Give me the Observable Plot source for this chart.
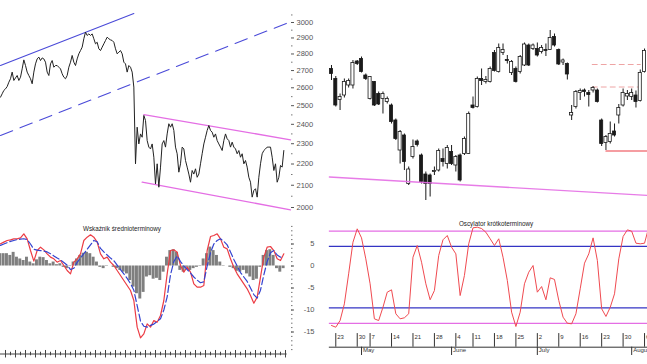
<!DOCTYPE html>
<html><head><meta charset="utf-8">
<script src="https://cdn.jsdelivr.net/npm/d3@7"></script>
<script src="https://cdn.jsdelivr.net/npm/@observablehq/plot@0.6"></script>
<style>
body{margin:0;background:#fff;}
#wrap{position:relative;width:647px;height:364px;overflow:hidden;font-family:"Liberation Sans",Arial,sans-serif;background:#fff;}
#wrap > div.p{position:absolute;}
.title{position:absolute;font-size:6.3px;color:#222;transform:translate(-50%,-50%);white-space:nowrap;}
</style></head><body>
<div id="wrap">
 <div class="p" id="price" style="left:0;top:0"></div>
 <div class="p" id="macd" style="left:0;top:215px"></div>
 <div class="p" id="candles" style="left:320px;top:0"></div>
 <div class="p" id="osc" style="left:320px;top:210px"></div>
 <div class="title" style="left:122px;top:228px">Wskaźnik średnioterminowy</div>
 <div class="title" style="left:496px;top:223px">Oscylator krótkoterminowy</div>
</div>
<script>
// ---------- Left: long-term index (log scale) ----------
const wigClose = [
2547,2566,2585,2594,2607,2632,2652,2691,2642,2657,
2671,2642,2661,2710,2764,2730,2691,2671,2652,2623,
2691,2740,2770,2781,2760,2776,2770,2750,2691,2671,
2740,2760,2720,2730,2730,2720,2710,2681,2661,2652,
2671,2720,2750,2791,2750,2730,2770,2801,2821,2842,
2895,2937,2916,2926,2916,2926,2895,2863,2873,2832,
2821,2842,2863,2884,2905,2895,2888,2884,2873,2832,
2801,2811,2821,2801,2750,2740,2691,2730,2720,2691,
2604,2201,2385,2299,2350,2333,2447,2420,2316,2283,
2274,2299,2233,2106,2201,2091,2185,2299,2316,2283,
2350,2403,2385,2403,2368,2283,2250,2161,2201,2283,
2274,2217,2185,2152,2114,2169,2152,2177,2137,2152,
2201,2250,2299,2333,2368,2394,2368,2359,2333,2350,
2316,2299,2283,2266,2316,2350,2325,2316,2283,2308,
2283,2274,2250,2266,2233,2250,2201,2217,2185,2137,
2114,2046,2076,2084,2046,2137,2201,2250,2266,2274,
2283,2283,2283,2233,2169,2201,2114,2137,2193,2185,
2266];
const priceTicks = [2000,2100,2200,2300,2400,2500,2600,2700,2800,2900,3000];
const priceMinor = [2050,2150,2250,2350,2450,2550,2650,2750,2850,2950,3050];
const trendUpper = [{i:0,p:2730},{i:80,p:3060}];
const trendLowerDashed = [{i:0,p:2342},{i:172,p:2996}];
const channelTop = [{i:86,p:2452},{i:174,p:2320}];
const channelBottom = [{i:85,p:2114},{i:174,p:1990}];

// ---------- Left: MACD (every 2nd session) ----------
const macdLine = [5.04,5.42,5.80,5.95,6.17,6.17,6.40,7.31,6.17,3.52,
1.10,3.52,4.28,3.67,2.77,2.01,1.63,0.87,1.25,0.11,
-1.02,-1.78,0.87,1.63,2.77,5.80,6.55,7.08,6.55,5.42,
2.77,1.63,2.01,0.87,0.11,-1.02,-2.16,-3.30,-4.43,-5.57,
-7.84,-13.90,-16.33,-15.42,-13.14,-13.90,-12.39,-12.77,-11.25,-7.84,
-1.78,3.52,3.67,3.14,0.11,-1.40,-0.27,-1.40,-4.05,-4.81,
-4.81,-4.43,3.52,6.70,6.93,7.31,6.17,4.28,3.90,1.63,
-0.27,-1.78,-2.92,-4.05,-5.19,-6.70,-8.45,-7.08,-2.54,2.01,
4.28,4.43,3.52,1.63,1.25,2.77];
const signalLine = [4.7,5.0,5.3,5.6,5.8,6.0,6.1,6.2,6.0,5.0,
3.8,3.6,3.5,3.4,3.2,2.8,2.3,1.8,1.4,0.8,
0.2,-0.8,-0.5,0.8,1.8,2.8,3.8,4.8,5.8,5.5,
4.0,3.2,2.5,1.8,1.2,0.2,-0.8,-1.8,-2.8,-4.0,
-5.5,-9.0,-12.5,-13.7,-13.9,-13.5,-13.2,-12.6,-12.0,-10.0,
-7.0,-2.0,1.0,2.3,1.0,0.0,-0.8,-1.6,-2.5,-3.2,
-3.8,-3.6,0.0,3.0,5.0,5.8,6.2,5.6,4.8,3.2,
1.5,0.0,-1.5,-2.5,-3.5,-5.0,-6.5,-7.3,-5.5,-2.0,
1.0,3.0,3.5,2.5,2.0,2.2];
const histogram = [2.8,2.8,2.8,2.4,3.1,2.0,1.6,1.25,2.0,0.9,
0.5,1.4,2.0,1.9,1.25,0.5,0.9,0.3,0.5,-0.3,
-0.6,0.1,0.9,1.6,2.4,2.9,3.1,2.8,2.0,0.9,
-0.3,-0.6,0.1,0.0,-0.3,-0.6,-1.0,-1.4,-1.8,-3.3,
-4.8,-6.3,-7.5,-6.0,-2.5,-2.2,-3.0,-2.8,-3.3,-1.4,
2.0,3.5,3.7,3.1,-1.0,-1.4,-0.3,-1.0,-0.6,-0.3,
0.1,1.6,2.8,4.3,3.5,2.4,0.9,-0.1,0.0,-0.3,
-0.6,-1.2,-1.4,-1.0,-1.8,-2.5,-3.3,-3.0,-0.3,2.4,
3.5,3.7,2.4,-0.6,-1.4,-0.6];
const macdTicks = [5,0,-5,-10,-15];

// ---------- Right: daily candles ----------
const tradingDays = [
"2012-04-20","2012-04-23","2012-04-24","2012-04-25","2012-04-26","2012-04-27","2012-04-30",
"2012-05-02","2012-05-04","2012-05-07","2012-05-08","2012-05-09","2012-05-10","2012-05-11",
"2012-05-14","2012-05-15","2012-05-16","2012-05-17","2012-05-18","2012-05-21","2012-05-22",
"2012-05-23","2012-05-24","2012-05-25","2012-05-28","2012-05-29","2012-05-30","2012-05-31",
"2012-06-01","2012-06-04","2012-06-05","2012-06-06","2012-06-08","2012-06-11","2012-06-12",
"2012-06-13","2012-06-14","2012-06-15","2012-06-18","2012-06-19","2012-06-20","2012-06-21",
"2012-06-22","2012-06-25","2012-06-26","2012-06-27","2012-06-28","2012-06-29",
"2012-07-02","2012-07-03","2012-07-04","2012-07-05","2012-07-06","2012-07-09","2012-07-10",
"2012-07-11","2012-07-12","2012-07-13","2012-07-16","2012-07-17","2012-07-18","2012-07-19",
"2012-07-20","2012-07-23","2012-07-24","2012-07-25","2012-07-26","2012-07-27","2012-07-30",
"2012-07-31","2012-08-01","2012-08-02","2012-08-03","2012-08-06","2012-08-07"];
const open = [2263,2243,2201,2210,2230,2230,2278,2283,2250,2203,
2237,2213,2203,2197,2190,2160,2100,2130,2033,2087,
2118,2090,2052,2050,2057,2060,2083,2073,2097,2070,
2090,2093,2093,2190,2187,2243,2237,2237,2295,2257,
2295,2281,2255,2263,2257,2270,2310,2303,2303,2297,
2301,2301,2327,2301,2276,2273,2170,2187,2215,2220,
2215,2220,2220,2160,2115,2117,2138,2170,2190,2208,
2207,2210,2199,2257];
const high = [2270,2248,2213,2243,2243,2280,2280,2287,2253,2248,
2238,2217,2217,2207,2193,2163,2140,2133,2067,2121,
2121,2093,2057,2053,2067,2103,2103,2110,2110,2090,
2093,2127,2177,2207,2247,2263,2248,2267,2300,2313,
2313,2290,2280,2267,2290,2315,2313,2313,2315,2310,
2313,2340,2333,2303,2283,2275,2190,2220,2223,2223,
2220,2228,2223,2163,2130,2157,2153,2192,2223,2220,
2223,2219,2261,2303];
const low = [2240,2187,2180,2205,2225,2223,2270,2255,2240,2201,
2188,2190,2173,2193,2153,2120,2073,2060,2030,2083,
2107,2033,2000,2007,2050,2057,2067,2063,2070,2057,
2037,2090,2092,2183,2185,2230,2233,2235,2257,2255,
2290,2273,2250,2235,2253,2268,2268,2300,2287,2293,
2288,2300,2307,2270,2270,2241,2160,2183,2200,2207,
2187,2215,2195,2108,2100,2113,2127,2153,2187,2200,
2200,2185,2197,2255];
const close = [2253,2190,2207,2237,2239,2275,2273,2257,2243,2247,
2190,2192,2213,2203,2157,2123,2137,2077,2062,2107,
2111,2037,2033,2033,2059,2099,2077,2105,2073,2087,
2040,2123,2173,2185,2243,2239,2241,2263,2259,2305,
2301,2279,2277,2237,2287,2312,2270,2310,2290,2305,
2299,2325,2310,2272,2280,2252,2175,2217,2219,2217,
2211,2225,2197,2113,2127,2133,2130,2185,2215,2213,
2215,2197,2255,2299];
const supportLine = [{k:-0.5,p:2047},{k:73.7,p:2010}];
const redLevel = [{k:64,p:2099},{k:73.7,p:2099}];
const dashedLevels = [2272,2227];

// ---------- Right: short-term oscillator ----------
const oscillator = [2.9,1.2,7.7,24,53.3,84.1,97.2,88.4,67.9,43.6,
9.4,7.7,20.7,35.4,37.7,14.3,9.4,10.4,14.3,69.5,
80.9,64.6,43.6,28,37,71.2,86.5,90.7,79.3,72.8,
32.1,51.7,82.6,98.2,98.8,97.5,93.9,87.5,80.9,87.5,
69.5,46.8,15.9,1.9,15.9,43.6,54.9,61.4,35.4,40.9,
28,49.4,47.8,27.3,11,5.1,4.5,14.3,38.7,63.7,
72.8,88.4,66.3,19.2,11.7,20.7,33.8,67.9,89.7,96.2,
94.9,83.2,82.6,83.2,99];
const oscOuter = [95,5];
const oscInner = [80,20];
const monthNames = ["January","February","March","April","May","June","July","August","September","October","November","December"];

// ---------- build ----------
const PINK = "#e46ee4", BLUE = "#4a4ad8", RED = "#ec3c44", INK = "#1a1a1a";
const baseStyle = {background:"transparent", overflow:"visible", fontFamily:"Liberation Sans, Arial, sans-serif"};

const priceRows = wigClose.map((p,i)=>({i,p}));
document.getElementById("price").append(Plot.plot({
  width:320, height:215, marginLeft:0, marginRight:30, marginTop:22, marginBottom:8,
  style: baseStyle,
  x:{domain:[0,174], axis:null},
  y:{type:"log", domain:[2000,3000], axis:null},
  marks:[
    Plot.axisY(priceMinor, {anchor:"right", label:null, tickSize:1.5, tickFormat:()=>"", color:"#777"}),
    Plot.axisY(priceTicks, {anchor:"right", label:null, tickSize:3, tickPadding:3, tickFormat:d=>String(d), fontSize:7.5, color:"#555"}),
    Plot.line(trendUpper, {x:"i", y:"p", stroke:BLUE, strokeWidth:1.1}),
    Plot.line(trendLowerDashed, {x:"i", y:"p", stroke:BLUE, strokeWidth:1.1, strokeDasharray:"13,8"}),
    Plot.line(channelTop, {x:"i", y:"p", stroke:PINK, strokeWidth:1.3}),
    Plot.line(channelBottom, {x:"i", y:"p", stroke:PINK, strokeWidth:1.3}),
    Plot.line(priceRows, {x:"i", y:"p", stroke:"#222", strokeWidth:1})
  ]
}));

const macdRows = macdLine.map((m,j)=>({i:2*j, m, s:signalLine[j], h:histogram[j]}));
document.getElementById("macd").append(Plot.plot({
  width:320, height:149, marginLeft:0, marginRight:30, marginTop:10.9, marginBottom:10.5,
  style: baseStyle,
  x:{domain:[0,174], axis:null},
  y:{domain:[-20,9], axis:null},
  marks:[
    Plot.rectY(macdRows, {x1:d=>d.i-1, x2:d=>d.i+1, y1:0, y2:"h", fill:"#7f7f7f", insetRight:0.4}),
    Plot.line(macdRows, {x:"i", y:"m", stroke:RED, strokeWidth:1.2}),
    Plot.line(macdRows, {x:"i", y:"s", stroke:"#3444d0", strokeWidth:1.2, strokeDasharray:"7,3"}),
    Plot.axisY(d3.range(-19,10), {anchor:"right", label:null, tickSize:1.5, tickFormat:()=>"", color:"#777"}),
    Plot.axisY(macdTicks, {anchor:"right", label:null, tickSize:3, tickFormat:()=>"", color:"#555"}),
    Plot.text(macdTicks, {y:d=>d, frameAnchor:"right", dx:24, textAnchor:"end", text:d=>String(d), fontSize:7.5, fill:"#555"}),
    Plot.ruleY([-20], {x1:0, x2:172, stroke:"#444", strokeWidth:1}),
    Plot.ruleX(d3.range(3,172,6), {x:d=>d, y1:-19.2, y2:-20.9, stroke:"#444"}),
    Plot.ruleX(d3.range(6,172,6), {x:d=>d, y1:-19.6, y2:-20.4, stroke:"#444"})
  ]
}));

const candles = open.map((o,k)=>({k, o, h:high[k], l:low[k], c:close[k]}));
const up = candles.filter(d=>d.c>=d.o), down = candles.filter(d=>d.c<d.o);
const dashRows = dashedLevels.flatMap(p=>[{k:60.8,p,g:p},{k:72,p,g:p}]);
document.getElementById("candles").append(Plot.plot({
  width:327, height:210, margin:0,
  style: baseStyle,
  x:{domain:[-2.565,73.69], axis:null},
  y:{domain:[1980,2400], axis:null},
  marks:[
    Plot.line(dashRows, {x:"k", y:"p", z:"g", stroke:"#ec9a9a", strokeWidth:0.9, strokeDasharray:"5,4"}),
    Plot.line(redLevel, {x:"k", y:"p", stroke:RED, strokeWidth:1.2}),
    Plot.ruleX(candles, {x:"k", y1:"l", y2:"h", stroke:INK, strokeWidth:1}),
    Plot.rect(up, {x1:d=>d.k-0.36, x2:d=>d.k+0.36, y1:"o", y2:"c", fill:"#fff", stroke:INK, strokeWidth:0.8}),
    Plot.rect(down, {x1:d=>d.k-0.36, x2:d=>d.k+0.36, y1:"o", y2:"c", fill:INK, stroke:INK, strokeWidth:0.8}),
    Plot.line(supportLine, {x:"k", y:"p", stroke:PINK, strokeWidth:1.3, strokeOpacity:0.9})
  ]
}));

const oscRows = oscillator.map((v,k)=>({k,v}));
const dayRows = tradingDays.map((s,k)=>({k, date:new Date(s+"T00:00:00Z")}));
const weekTicks = dayRows.filter(d=>d.date.getUTCDay()===1).map(d=>({k:d.k, label:String(d.date.getUTCDate())}));
const monthTicks = dayRows.filter((d,i)=>i>0 && d.date.getUTCMonth()!==dayRows[i-1].date.getUTCMonth())
  .map(d=>({k:d.k, label:monthNames[d.date.getUTCMonth()]}));
document.getElementById("osc").append(Plot.plot({
  width:327, height:154, marginLeft:0, marginRight:0, marginTop:0, marginBottom:17.3,
  style: baseStyle,
  x:{domain:[-2.565,73.69], axis:null},
  y:{domain:[-18.3,115.1], axis:null},
  marks:[
    Plot.ruleY(oscOuter, {x1:-0.5, x2:73.69, stroke:PINK, strokeWidth:1.3}),
    Plot.ruleY(oscInner, {x1:-0.5, x2:73.69, stroke:"#3434c4", strokeWidth:1.2}),
    Plot.line(oscRows, {x:"k", y:"v", stroke:"#f04a50", strokeWidth:1}),
    Plot.ruleY([-18.3], {x1:-0.5, x2:73.69, stroke:"#333", strokeWidth:1}),
    Plot.ruleX(weekTicks, {x:"k", y1:-18.3, y2:-5, stroke:"#333", strokeWidth:1}),
    Plot.text(weekTicks, {x:"k", frameAnchor:"bottom", dy:-8.4, dx:1.5, textAnchor:"start", text:"label", fontSize:6, fill:"#333"}),
    Plot.ruleX(monthTicks, {x:"k", y1:-18.3, y2:-26.4, stroke:"#333", strokeWidth:1}),
    Plot.text(monthTicks, {x:"k", frameAnchor:"bottom", dy:5, dx:1.5, textAnchor:"start", text:"label", fontSize:6, fill:"#333"})
  ]
}));
</script>
</body></html>
